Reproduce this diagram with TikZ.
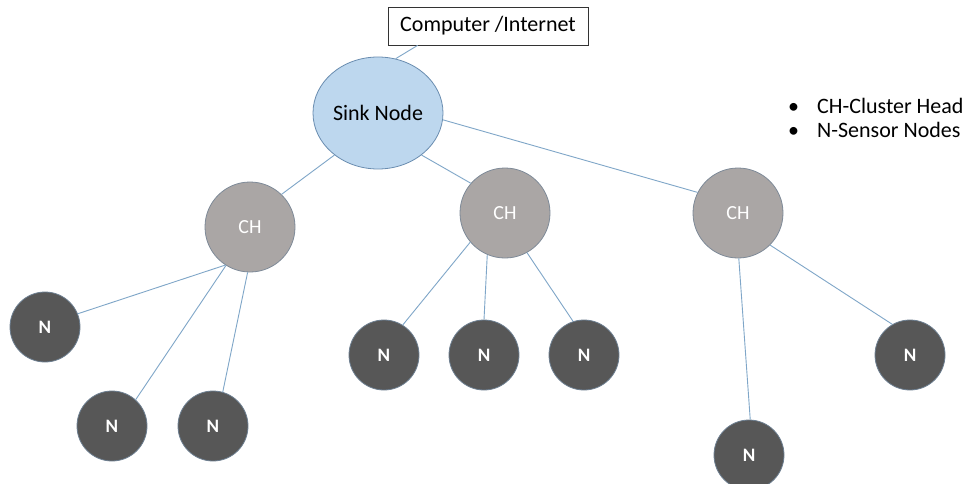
\documentclass[tikz,border=0pt]{standalone}
\usepackage{fontspec}
\setmainfont{Carlito}
\usetikzlibrary{shapes.geometric}
\definecolor{linkc}{HTML}{7FA6C8}
\definecolor{sinkfill}{HTML}{BDD7EE}
\definecolor{sinkdraw}{HTML}{6A8DB0}
\definecolor{chfill}{HTML}{AAA6A5}
\definecolor{chdraw}{HTML}{7E8A98}
\definecolor{nfill}{HTML}{575757}
\definecolor{ndraw}{HTML}{6C7E90}
\tikzset{
  link/.style={draw=linkc, line width=0.9pt},
  sinkbox/.style={ellipse, draw=sinkdraw, fill=sinkfill, line width=0.8pt, minimum width=130pt, minimum height=112pt, inner sep=0pt, font=\fontsize{22}{26}\selectfont},
  chbox/.style={circle, draw=chdraw, fill=chfill, line width=0.8pt, minimum size=90pt, inner sep=0pt, text=white, font=\fontsize{20}{24}\selectfont},
  nbox/.style={circle, draw=ndraw, fill=nfill, line width=0.8pt, minimum size=70pt, inner sep=0pt, text=white, font=\bfseries\fontsize{19}{22}\selectfont},
  topbox/.style={draw=black!80, fill=white, line width=0.8pt, minimum width=200pt, minimum height=38pt, inner sep=0pt, font=\fontsize{22}{26}\selectfont},
  legend/.style={anchor=west, inner sep=0pt, font=\fontsize{22}{26}\selectfont}
}
\begin{document}
\begin{tikzpicture}[x=1pt, y=-1pt]
\useasboundingbox (0,0) rectangle (968,484);
\fill[white] (0,0) rectangle (968,484);
\node[topbox] (comp) at (488,26) {Computer /Internet};
\node[sinkbox] (sink) at (378,113) {Sink Node};
\node[chbox] (ch1) at (250,227) {CH};
\node[chbox] (ch2) at (505,213) {CH};
\node[chbox] (ch3) at (738,213) {CH};
\node[nbox] (n1) at (45,327) {N};
\node[nbox] (n2) at (112,426) {N};
\node[nbox] (n3) at (213,426) {N};
\node[nbox] (n4) at (384,355) {N};
\node[nbox] (n5) at (484,355) {N};
\node[nbox] (n6) at (584,355) {N};
\node[nbox] (n7) at (910,355) {N};
\node[nbox] (n8) at (749,455) {N};
\coordinate (cl) at ([xshift=30pt]comp.south west);
\draw[link] (cl) -- (sink.72);
\draw[link] (sink.224) -- (ch1.46);
\draw[link] (sink.316) -- (ch2.139);
\draw[link] (sink.354) -- (ch3.153);
\draw[link] (ch1.237) -- (n1.22);
\draw[link] (ch1.238) -- (n2.48);
\draw[link] (ch1.267) -- (n3.74);
\draw[link] (ch2.220) -- (n4.58);
\draw[link] (ch2.247) -- (n5.90);
\draw[link] (ch2.299) -- (n6.108);
\draw[link] (ch3.271) -- (n8.88);
\draw[link] (ch3.315) -- (n7.120);
\node[legend] (l1) at (788,106) {\textbullet\hspace{18pt}CH-Cluster Head};
\node[legend] (l2) at (788,130) {\textbullet\hspace{18pt}N-Sensor Nodes};
\end{tikzpicture}
\end{document}
